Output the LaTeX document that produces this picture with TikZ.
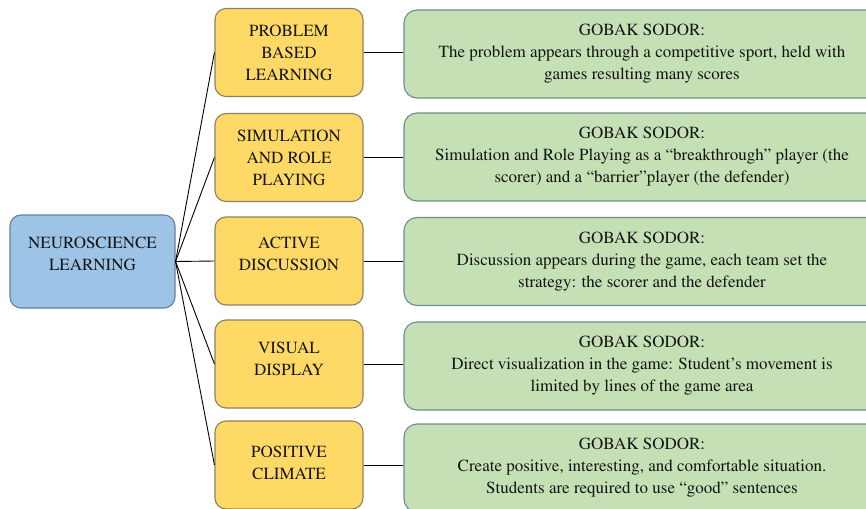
\documentclass[tikz,border=0pt]{standalone}
\usepackage[T1]{fontenc}
\usepackage{times}
\usetikzlibrary{positioning}
\definecolor{blueFill}{RGB}{157,195,230}
\definecolor{blueLine}{RGB}{96,128,160}
\definecolor{yellowFill}{RGB}{255,217,102}
\definecolor{yellowLine}{RGB}{140,128,100}
\definecolor{greenFill}{RGB}{197,224,180}
\definecolor{greenLine}{RGB}{110,140,140}
\definecolor{textCol}{RGB}{20,20,20}

\begin{document}
\begin{tikzpicture}[x=1pt,y=-1pt]
\tikzstyle{every node}+=[font=\rmfamily\fontsize{17}{22}\selectfont, align=center, text=textCol]
\tikzstyle{bluebox}=[draw=blueLine, fill=blueFill, line width=1.1pt, rounded corners=11pt, minimum width=165pt, minimum height=93pt]
\tikzstyle{yellowbox}=[draw=yellowLine, fill=yellowFill, line width=1.1pt, rounded corners=11pt, minimum width=148pt, minimum height=88pt]
\tikzstyle{greenbox}=[draw=greenLine, fill=greenFill, line width=1.1pt, rounded corners=13pt, minimum width=476pt, minimum height=88pt]
\tikzstyle{lift}=[text depth=#1]
\useasboundingbox (0,0) rectangle (866,508);
% root
\node [bluebox, lift=15pt] (neuro) at (92.5,261.5) {NEUROSCIENCE\\LEARNING};
% methods
\node [yellowbox] (pbl) at (289,52.5) {PROBLEM\\BASED\\LEARNING};
\node [yellowbox] (srp) at (289,157.5) {SIMULATION\\AND ROLE\\PLAYING};
\node [yellowbox, lift=15pt] (disc) at (289,261) {ACTIVE\\DISCUSSION};
\node [yellowbox, lift=10pt] (vis) at (289,364) {VISUAL\\DISPLAY};
\node [yellowbox, lift=5pt] (clim) at (289,465) {POSITIVE\\CLIMATE};
% gobak sodor
\node [greenbox] (g1) at (642,54) {GOBAK SODOR:\\The problem appears through a competitive sport, held with\\games resulting many scores};
\node [greenbox] (g2) at (642,157) {GOBAK SODOR:\\Simulation and Role Playing as a ``breakthrough'' player (the\\scorer) and a ``barrier''player (the defender)};
\node [greenbox] (g3) at (642,261.5) {GOBAK SODOR:\\Discussion appears during the game, each team set the\\strategy: the scorer and the defender};
\node [greenbox] (g4) at (642,366) {GOBAK SODOR:\\Direct visualization in the game: Student's movement is\\limited by lines of the game area};
\node [greenbox] (g5) at (642,468) {GOBAK SODOR:\\Create positive, interesting, and comfortable situation.\\Students are required to use ``good'' sentences};
% links
\draw [line width=0.9pt] (neuro.east) -- (pbl.west);
\draw [line width=0.9pt] (neuro.east) -- (srp.west);
\draw [line width=0.9pt] (neuro.east) -- (disc.west);
\draw [line width=0.9pt] (neuro.east) -- (vis.west);
\draw [line width=0.9pt] (neuro.east) -- (clim.west);
\draw [line width=0.9pt] (pbl.east) -- (pbl.east -| g1.west);
\draw [line width=0.9pt] (srp.east) -- (srp.east -| g2.west);
\draw [line width=0.9pt] (disc.east) -- (disc.east -| g3.west);
\draw [line width=0.9pt] (vis.east) -- (vis.east -| g4.west);
\draw [line width=0.9pt] (clim.east) -- (clim.east -| g5.west);
\end{tikzpicture}
\end{document}
